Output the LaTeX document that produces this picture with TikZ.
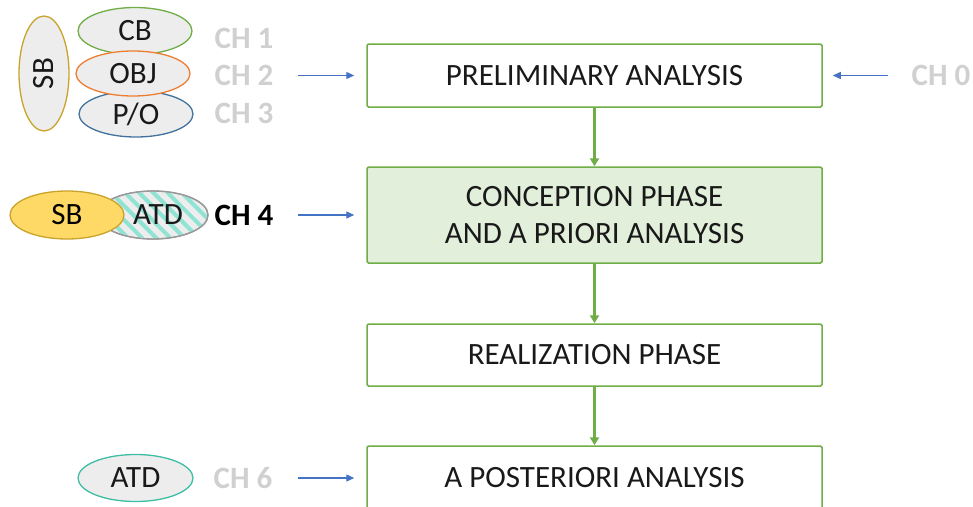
\documentclass[tikz,border=0pt]{standalone}
\usepackage{fontspec}
\setmainfont{Carlito}
\usetikzlibrary{shapes.geometric,patterns.meta,arrows.meta}
\definecolor{boxgreen}{HTML}{70AD47}
\definecolor{lightgreen}{HTML}{E2EFDA}
\definecolor{arrblue}{HTML}{4472C4}
\definecolor{chgray}{HTML}{D0D0D0}
\definecolor{ellfill}{HTML}{EDEDED}
\definecolor{orng}{HTML}{ED7D31}
\definecolor{dblue}{HTML}{41719C}
\definecolor{gold}{HTML}{C9A32A}
\definecolor{yell}{HTML}{FFD966}
\definecolor{teal2}{HTML}{3DBDA4}
\definecolor{stripe}{HTML}{8EE3D3}
\tikzset{
  phasebox/.style={draw=boxgreen, line width=1.5pt, rounded corners=1.5pt, minimum width=455pt, inner sep=0pt, align=center, font=\fontsize{31}{37}\selectfont, text=black!90},
  flow/.style={draw=boxgreen, line width=2.6pt, -{Triangle[length=8pt,width=9pt]}},
  inarrow/.style={draw=arrblue, line width=1.3pt, -{Triangle[length=8pt,width=7pt]}},
  chlabel/.style={font=\fontsize{31}{36}\selectfont\bfseries, text=chgray, inner sep=0pt},
  ell/.style={ellipse, fill=ellfill, line width=1.3pt, inner sep=0pt, font=\fontsize{31}{36}\selectfont, text=black!90},
}
\begin{document}
\begin{tikzpicture}[x=1pt,y=-1pt]
\useasboundingbox (0,0) rectangle (973,506);
\clip (0,0) rectangle (973,506);
% phase boxes
\node[phasebox, minimum height=63pt] (pre) at (594.5,75.5) {PRELIMINARY ANALYSIS};
\node[phasebox, minimum height=96pt, fill=lightgreen] (con) at (594.5,215) {CONCEPTION PHASE\\AND A PRIORI ANALYSIS};
\node[phasebox, minimum height=62pt] (rea) at (594.5,355) {REALIZATION PHASE};
\node[phasebox, minimum height=64pt] (pos) at (594.5,478) {A POSTERIORI ANALYSIS};
\draw[flow] (pre) -- (con);
\draw[flow] (con) -- (rea);
\draw[flow] (rea) -- (pos);
% top-left ellipses
\node[ell, draw=boxgreen, minimum width=114pt, minimum height=47pt] (cb) at (135,31) {CB};
\node[ell, draw=dblue, minimum width=114pt, minimum height=46pt] (po) at (136,114) {P/O};
\node[ell, draw=orng, minimum width=114pt, minimum height=45pt] (obj) at (133,73.5) {OBJ};
\node[ell, draw=gold, minimum width=50pt, minimum height=115pt] (sb1) at (44,73.5) {};
\node[rotate=90, font=\fontsize{31}{36}\selectfont, text=black!90] (sb1t) at (sb1.center) {SB};
\node[chlabel] (ch1) at (244,38) {CH 1};
\node[chlabel] (ch2) at (244,75.5) {CH 2};
\node[chlabel] (ch3) at (244,113) {CH 3};
\node[chlabel] (ch0) at (941,75.5) {CH 0};
\coordinate (a2) at (298,75.5);
\coordinate (a0) at (888,75.5);
\draw[inarrow] (a2) -- ([xshift=-12pt]pre.west);
\draw[inarrow] (a0) -- ([xshift=10pt]pre.east);
% CH4 row
\node[ellipse, draw=gray!80, line width=1.3pt, minimum width=110pt, minimum height=48pt, inner sep=0pt, fill=ellfill] (atd1) at (153,215) {};
\path[pattern={Lines[angle=-45,distance=10pt,line width=4pt]}, pattern color=stripe] (atd1.center) ellipse [x radius=54pt, y radius=23pt];
\draw[gray!80, line width=1.3pt] (atd1.center) ellipse [x radius=55pt, y radius=24pt];
\node[font=\fontsize{31}{36}\selectfont, text=black!90, inner sep=0pt] (atd1t) at (158,215) {ATD};
\node[ellipse, draw=gold, fill=yell, line width=1.3pt, minimum width=114pt, minimum height=48pt, inner sep=0pt, font=\fontsize{31}{36}\selectfont] (sb2) at (67,215) {SB};
\node[chlabel, text=black] (ch4) at (244,215) {CH 4};
\coordinate (a4) at (298,215);
\draw[inarrow] (a4) -- ([xshift=-12pt]con.west);
% CH6 row
\node[ell, draw=teal2, minimum width=115pt, minimum height=47pt] (atd2) at (135.5,478) {ATD};
\node[chlabel] (ch6) at (243,478) {CH 6};
\coordinate (a6) at (298,478);
\draw[inarrow] (a6) -- ([xshift=-12pt]pos.west);
\end{tikzpicture}
\end{document}
